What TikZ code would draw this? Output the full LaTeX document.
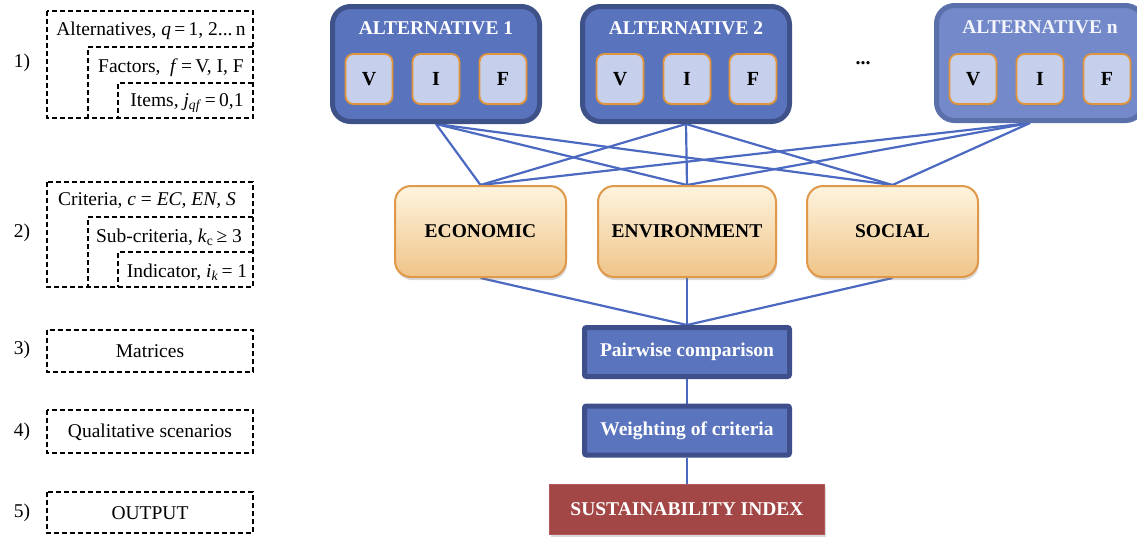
\documentclass[tikz,border=0pt]{standalone}
\usepackage{fontspec}
\setmainfont{Liberation Serif}
\usetikzlibrary{shadows}
\definecolor{altfill}{HTML}{5A73BD}
\definecolor{altborder}{HTML}{3F5189}
\definecolor{altnfill}{HTML}{7389C9}
\definecolor{altnborder}{HTML}{5B6FAB}
\definecolor{viffill}{HTML}{C6D0EC}
\definecolor{vifborder}{HTML}{E0943C}
\definecolor{critTop}{HTML}{FDF4DE}
\definecolor{critBot}{HTML}{EFC488}
\definecolor{critborder}{HTML}{E0984A}
\definecolor{procfill}{HTML}{5A74BE}
\definecolor{procborder}{HTML}{3E4F8B}
\definecolor{sifill}{HTML}{A24646}
\definecolor{siborder}{HTML}{B25858}
\definecolor{linkcol}{HTML}{4B69C1}
\pgfdeclarelayer{bg}
\pgfsetlayers{bg,main}
\begin{document}
\begin{tikzpicture}[x=1pt,y=-1pt,
  altbox/.style={draw=altborder, line width=5pt, fill=altfill, rounded corners=18pt,
    minimum width=207pt, minimum height=115pt, inner sep=0pt},
  altnbox/.style={altbox, draw=altnborder, fill=altnfill},
  alttitle/.style={text=white, font=\fontsize{19.5}{22}\selectfont\bfseries, inner sep=0pt},
  vifbox/.style={draw=vifborder, line width=1.8pt, fill=viffill, rounded corners=8pt,
    minimum width=47pt, minimum height=50pt, inner sep=0pt,
    font=\fontsize{20}{23}\selectfont\bfseries,
    drop shadow={opacity=0.35, shadow xshift=1pt, shadow yshift=-2pt}},
  critbox/.style={draw=critborder, line width=2pt, top color=critTop, bottom color=critBot,
    rounded corners=16pt, minimum width=171pt, minimum height=91pt, inner sep=0pt,
    font=\fontsize{19.5}{23}\selectfont\bfseries,
    drop shadow={opacity=0.3, shadow xshift=1pt, shadow yshift=-3pt}},
  procbox/.style={draw=procborder, line width=5pt, fill=procfill, rounded corners=2pt,
    minimum width=205pt, minimum height=49pt, inner sep=0pt, text=white,
    font=\fontsize{19.5}{23}\selectfont\bfseries},
  sibox/.style={draw=siborder, line width=1pt, fill=sifill,
    minimum width=275pt, minimum height=50pt, inner sep=0pt, text=white,
    font=\fontsize{19.5}{23}\selectfont\bfseries,
    drop shadow={opacity=0.3, shadow xshift=1pt, shadow yshift=-2pt}},
  link/.style={draw=linkcol, line width=2.2pt},
  dashbox/.style={draw, dash pattern=on 5pt off 3pt, line width=1.4pt},
  lefttxt/.style={font=\fontsize{19.5}{22}\selectfont, inner sep=0pt}
]
\useasboundingbox (0,0) rectangle (1137,539);
\clip (0,0) rectangle (1137,539);

% ---------- left legend ----------
\draw[dashbox] (47,11) rectangle (253,118);
\draw[dashbox] (253,47) -- (88,47) -- (88,118);
\draw[dashbox] (253,83) -- (118,83) -- (118,118);
\node[lefttxt] (n1) at (22,63) {1)};
\node[lefttxt] (t1a) at (151,31) {Alternatives, \textit{q}\,=\,1, 2...\,n};
\node[lefttxt] (t1b) at (171,68) {Factors, \ \textit{f}\,=\,V, I, F};
\node[lefttxt] (t1c) at (187,103) {Items, \textit{j}\textsubscript{\textit{qf}}\,=\,0,1};

\draw[dashbox] (47,182) rectangle (253,287);
\draw[dashbox] (253,217) -- (88,217) -- (88,287);
\draw[dashbox] (253,252) -- (118,252) -- (118,287);
\node[lefttxt] (n2) at (22,233) {2)};
\node[lefttxt] (t2a) at (147,201) {Criteria, \textit{c} = \textit{EC, EN, S}};
\node[lefttxt] (t2b) at (169,237) {Sub-criteria, \textit{k}\textsubscript{c}\,≥ 3};
\node[lefttxt] (t2c) at (187,272) {Indicator, \textit{i}\textsubscript{\textit{k}}\,= 1};

\draw[dashbox] (47,330) rectangle (253,372);
\node[lefttxt] (n3) at (22,350) {3)};
\node[lefttxt] (t3) at (150,351) {Matrices};

\draw[dashbox] (47,410) rectangle (253,453);
\node[lefttxt] (n4) at (22,432) {4)};
\node[lefttxt] (t4) at (150,432) {Qualitative scenarios};

\draw[dashbox] (47,492) rectangle (253,533);
\node[lefttxt] (n5) at (22,513) {5)};
\node[lefttxt] (t5) at (150,513) {OUTPUT};

% ---------- alternatives ----------
\node[altbox] (alt1) at (436,64) {};
\node[alttitle] (alt1t) at (436,28) {ALTERNATIVE 1};
\node[vifbox] (a1v) at (369,79) {V};
\node[vifbox] (a1i) at (436,79) {I};
\node[vifbox] (a1f) at (503,79) {F};

\node[altbox] (alt2) at (686,64) {};
\node[alttitle] (alt2t) at (686,28) {ALTERNATIVE 2};
\node[vifbox] (a2v) at (620,79) {V};
\node[vifbox] (a2i) at (687,79) {I};
\node[vifbox] (a2f) at (753,79) {F};

\node[font=\fontsize{20}{23}\selectfont\bfseries] (dots) at (863,63) {...};

\node[altnbox] (altn) at (1040,63) {};
\node[alttitle, text=white!92!altnfill] (altnt) at (1040,27) {ALTERNATIVE n};
\node[vifbox] (anv) at (973,79) {V};
\node[vifbox] (ani) at (1040,79) {I};
\node[vifbox] (anf) at (1107,79) {F};
\coordinate (altnb) at ([xshift=-10pt]altn.south);

% ---------- criteria ----------
\node[critbox] (econ) at (480.5,231.5) {ECONOMIC};
\node[critbox, minimum width=178pt] (env) at (687,231.5) {ENVIRONMENT};
\node[critbox] (soc) at (892.5,231.5) {SOCIAL};

% ---------- process ----------
\node[procbox] (pair) at (687,352) {Pairwise comparison};
\node[procbox] (weight) at (687,430.5) {Weighting of criteria};
\node[sibox] (si) at (687,509.5) {SUSTAINABILITY INDEX};

% ---------- connectors ----------
\begin{pgfonlayer}{bg}
  \foreach \a in {alt1,alt2,altnb}{
    \foreach \c in {econ,env,soc}{
      \draw[link] (\a.south) -- (\c.north);
    }
  }
  \draw[link] (econ.south) -- (pair.north);
  \draw[link] (env.south) -- (pair.north);
  \draw[link] (soc.south) -- (pair.north);
  \draw[link] (pair.south) -- (weight.north);
  \draw[link] (weight.south) -- (si.north);
\end{pgfonlayer}
\end{tikzpicture}
\end{document}
